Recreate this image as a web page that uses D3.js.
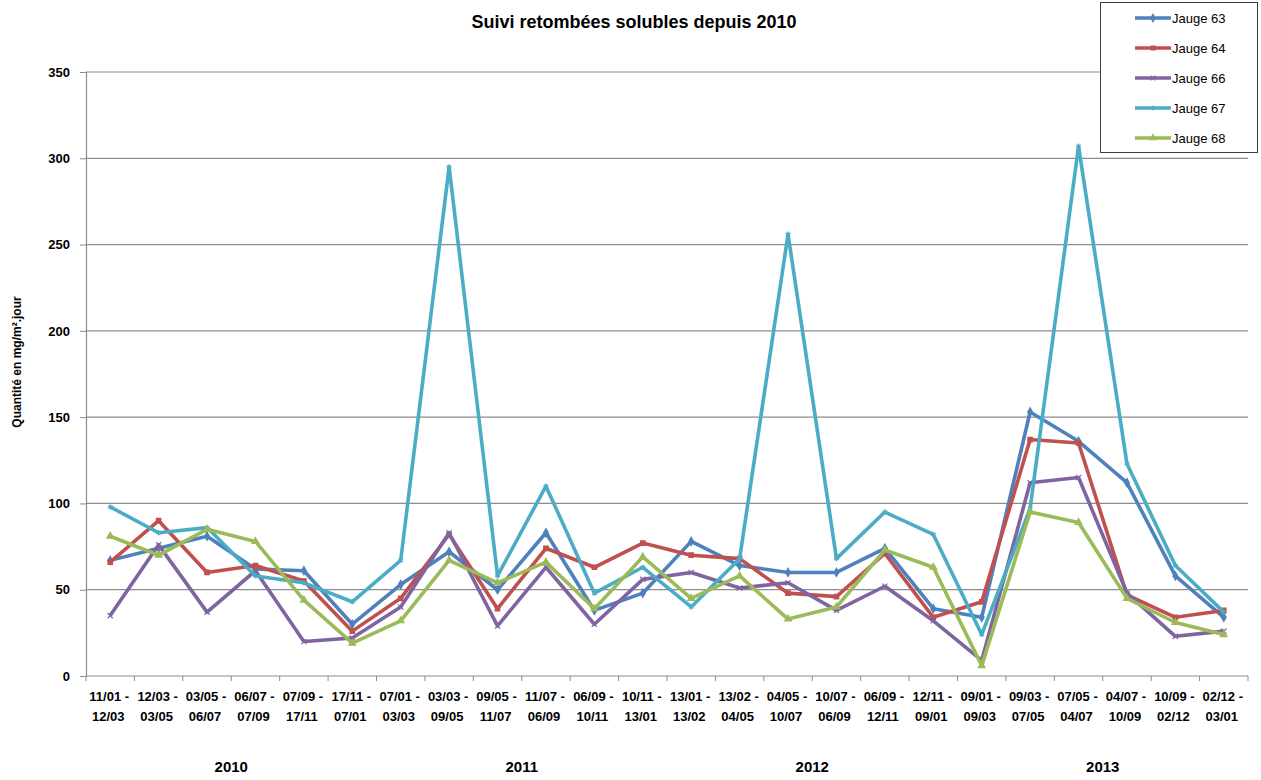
<!DOCTYPE html>
<html>
<head>
<meta charset="utf-8">
<script src="https://cdn.jsdelivr.net/npm/d3@7"></script>
<style>
  body { margin: 0; background: #fff; }
  text { font-family: "Liberation Sans", Arial, sans-serif; }
</style>
</head>
<body>
<div id="container"></div>
<script>
var periods = [
  ["11/01", "12/03"], ["12/03", "03/05"], ["03/05", "06/07"], ["06/07", "07/09"],
  ["07/09", "17/11"], ["17/11", "07/01"], ["07/01", "03/03"], ["03/03", "09/05"],
  ["09/05", "11/07"], ["11/07", "06/09"], ["06/09", "10/11"], ["10/11", "13/01"],
  ["13/01", "13/02"], ["13/02", "04/05"], ["04/05", "10/07"], ["10/07", "06/09"],
  ["06/09", "12/11"], ["12/11", "09/01"], ["09/01", "09/03"], ["09/03", "07/05"],
  ["07/05", "04/07"], ["04/07", "10/09"], ["10/09", "02/12"], ["02/12", "03/01"]
];
var years = ["2010", "2011", "2012", "2013"];
var yearStart = [0, 6, 12, 18];
var yearEnd = [5, 11, 17, 23];
var yTicks = [0, 50, 100, 150, 200, 250, 300, 350];

var seriesNames = ["Jauge 63", "Jauge 64", "Jauge 66", "Jauge 67", "Jauge 68"];
var jauge63 = [67, 74, 81, 62, 61, 30, 53, 72, 50, 83, 38, 48, 78, 64, 60, 60, 74, 39, 34, 153, 136, 112, 58, 34];
var jauge64 = [66, 90, 60, 64, 55, 26, 45, 82, 39, 74, 63, 77, 70, 68, 48, 46, 71, 34, 43, 137, 135, 47, 34, 38];
var jauge66 = [35, 76, 37, 61, 20, 22, 40, 83, 29, 63, 30, 56, 60, 51, 54, 38, 52, 32, 9, 112, 115, 48, 23, 26];
var jauge67 = [98, 83, 86, 58, 54, 43, 67, 295, 58, 110, 48, 63, 40, 68, 256, 68, 95, 82, 24, 97, 307, 123, 64, 37];
var jauge68 = [81, 70, 85, 78, 44, 19, 32, 67, 54, 66, 39, 69, 45, 58, 33, 40, 73, 63, 6, 95, 89, 45, 31, 24];

var colors = ["#4F81BD", "#C0504D", "#8064A2", "#4BACC6", "#9BBB59"];
var symbols = [d3.symbolDiamond, d3.symbolSquare, d3.symbolTimes, d3.symbolAsterisk, d3.symbolTriangle];

var series = [jauge63, jauge64, jauge66, jauge67, jauge68].map(function (v, i) {
  return { name: seriesNames[i], values: v, color: colors[i], symbol: symbols[i] };
});

var W = 1261, H = 780;
var plot = { left: 86, right: 1248, top: 72, bottom: 676 };

var svg = d3.select("#container").append("svg").attr("width", W).attr("height", H);

var x = d3.scaleBand().domain(d3.range(periods.length)).range([plot.left, plot.right]);
var y = d3.scaleLinear().domain([0, 350]).range([plot.bottom, plot.top]);
var cx = function (i) { return x(i) + x.bandwidth() / 2; };

// gridlines
svg.append("g")
  .selectAll("line")
  .data(yTicks.slice(1))
  .enter()
  .append("line")
  .attr("x1", plot.left).attr("x2", plot.right)
  .attr("y1", function (d) { return y(d); }).attr("y2", function (d) { return y(d); })
  .style("stroke", "#8c8c8c").style("stroke-width", 1.2);

// y axis
var yAxis = svg.append("g")
  .attr("transform", "translate(" + plot.left + ",0)")
  .call(d3.axisLeft(y).tickValues(yTicks).tickSize(6).tickPadding(10));
yAxis.select(".domain").style("stroke", "#8c8c8c").style("stroke-width", 1.2);
yAxis.selectAll(".tick line").style("stroke", "#8c8c8c");
yAxis.selectAll("text")
  .style("font-size", "13px").style("font-weight", "bold").style("fill", "#000");

// x axis
var xg = svg.append("g").attr("transform", "translate(0," + plot.bottom + ")");
xg.append("line")
  .attr("x1", plot.left).attr("x2", plot.right)
  .style("stroke", "#8c8c8c").style("stroke-width", 1.2);
xg.selectAll("line.tick")
  .data(d3.range(periods.length + 1))
  .enter()
  .append("line")
  .attr("class", "tick")
  .attr("x1", function (d) { return plot.left + d * x.step(); })
  .attr("x2", function (d) { return plot.left + d * x.step(); })
  .attr("y1", 0).attr("y2", 5)
  .style("stroke", "#8c8c8c");

var xl = xg.selectAll("text.cat")
  .data(periods)
  .enter()
  .append("text")
  .attr("class", "cat")
  .attr("text-anchor", "middle")
  .style("font-size", "13px")
  .style("font-weight", "bold");
xl.append("tspan")
  .attr("x", function (d, i) { return cx(i) - 1; })
  .attr("y", 25)
  .text(function (d) { return d[0] + " -"; });
xl.append("tspan")
  .attr("x", function (d, i) { return cx(i) - 2; })
  .attr("y", 45)
  .text(function (d) { return d[1]; });

// year labels
svg.selectAll("text.year")
  .data(years)
  .enter()
  .append("text")
  .attr("class", "year")
  .attr("x", function (d, i) { return (cx(yearStart[i]) + cx(yearEnd[i])) / 2; })
  .attr("y", 772)
  .attr("text-anchor", "middle")
  .style("font-size", "15px")
  .style("font-weight", "bold")
  .text(function (d) { return d; });

// title
svg.append("text")
  .attr("x", 634).attr("y", 28)
  .attr("text-anchor", "middle")
  .style("font-size", "18px").style("font-weight", "bold")
  .text("Suivi retombées solubles depuis 2010");

// y title
svg.append("text")
  .attr("transform", "translate(21,362) rotate(-90)")
  .attr("text-anchor", "middle")
  .style("font-size", "12px").style("font-weight", "bold")
  .text("Quantité en mg/m².jour");

// lines
var line = d3.line()
  .x(function (d, i) { return cx(i); })
  .y(function (d) { return y(d); });

var sg = svg.append("g").selectAll("g.series")
  .data(series)
  .enter()
  .append("g")
  .attr("class", "series");

sg.append("path")
  .attr("d", function (d) { return line(d.values); })
  .style("fill", "none")
  .style("stroke", function (d) { return d.color; })
  .style("stroke-width", 3.6)
  .style("stroke-linejoin", "round");

sg.each(function (s) {
  d3.select(this).selectAll("path.mark")
    .data(s.values)
    .enter()
    .append("path")
    .attr("class", "mark")
    .attr("transform", function (d, i) { return "translate(" + cx(i) + "," + y(d) + ")"; })
    .attr("d", d3.symbol().type(s.symbol).size(20))
    .style("fill", s.color)
    .style("stroke", s.color)
    .style("stroke-width", 1.2);
});

// legend
var legend = svg.append("g").attr("transform", "translate(1100,2)");
legend.append("rect")
  .attr("x", 0.5).attr("y", 0.5).attr("width", 157).attr("height", 150)
  .style("fill", "#fff").style("stroke", "#404040").style("stroke-width", 1);
var li = legend.selectAll("g.item")
  .data(series)
  .enter()
  .append("g")
  .attr("class", "item")
  .attr("transform", function (d, i) { return "translate(0," + (16 + i * 30) + ")"; });
li.append("line")
  .attr("x1", 35).attr("x2", 71)
  .style("stroke", function (d) { return d.color; })
  .style("stroke-width", 3.5);
li.append("path")
  .attr("transform", "translate(53,0)")
  .attr("d", function (d) { return d3.symbol().type(d.symbol).size(16)(); })
  .style("fill", function (d) { return d.color; })
  .style("stroke", function (d) { return d.color; })
  .style("stroke-width", 1.2);
li.append("text")
  .attr("x", 72).attr("y", 5)
  .style("font-size", "13px")
  .text(function (d) { return d.name; });
</script>
</body>
</html>
